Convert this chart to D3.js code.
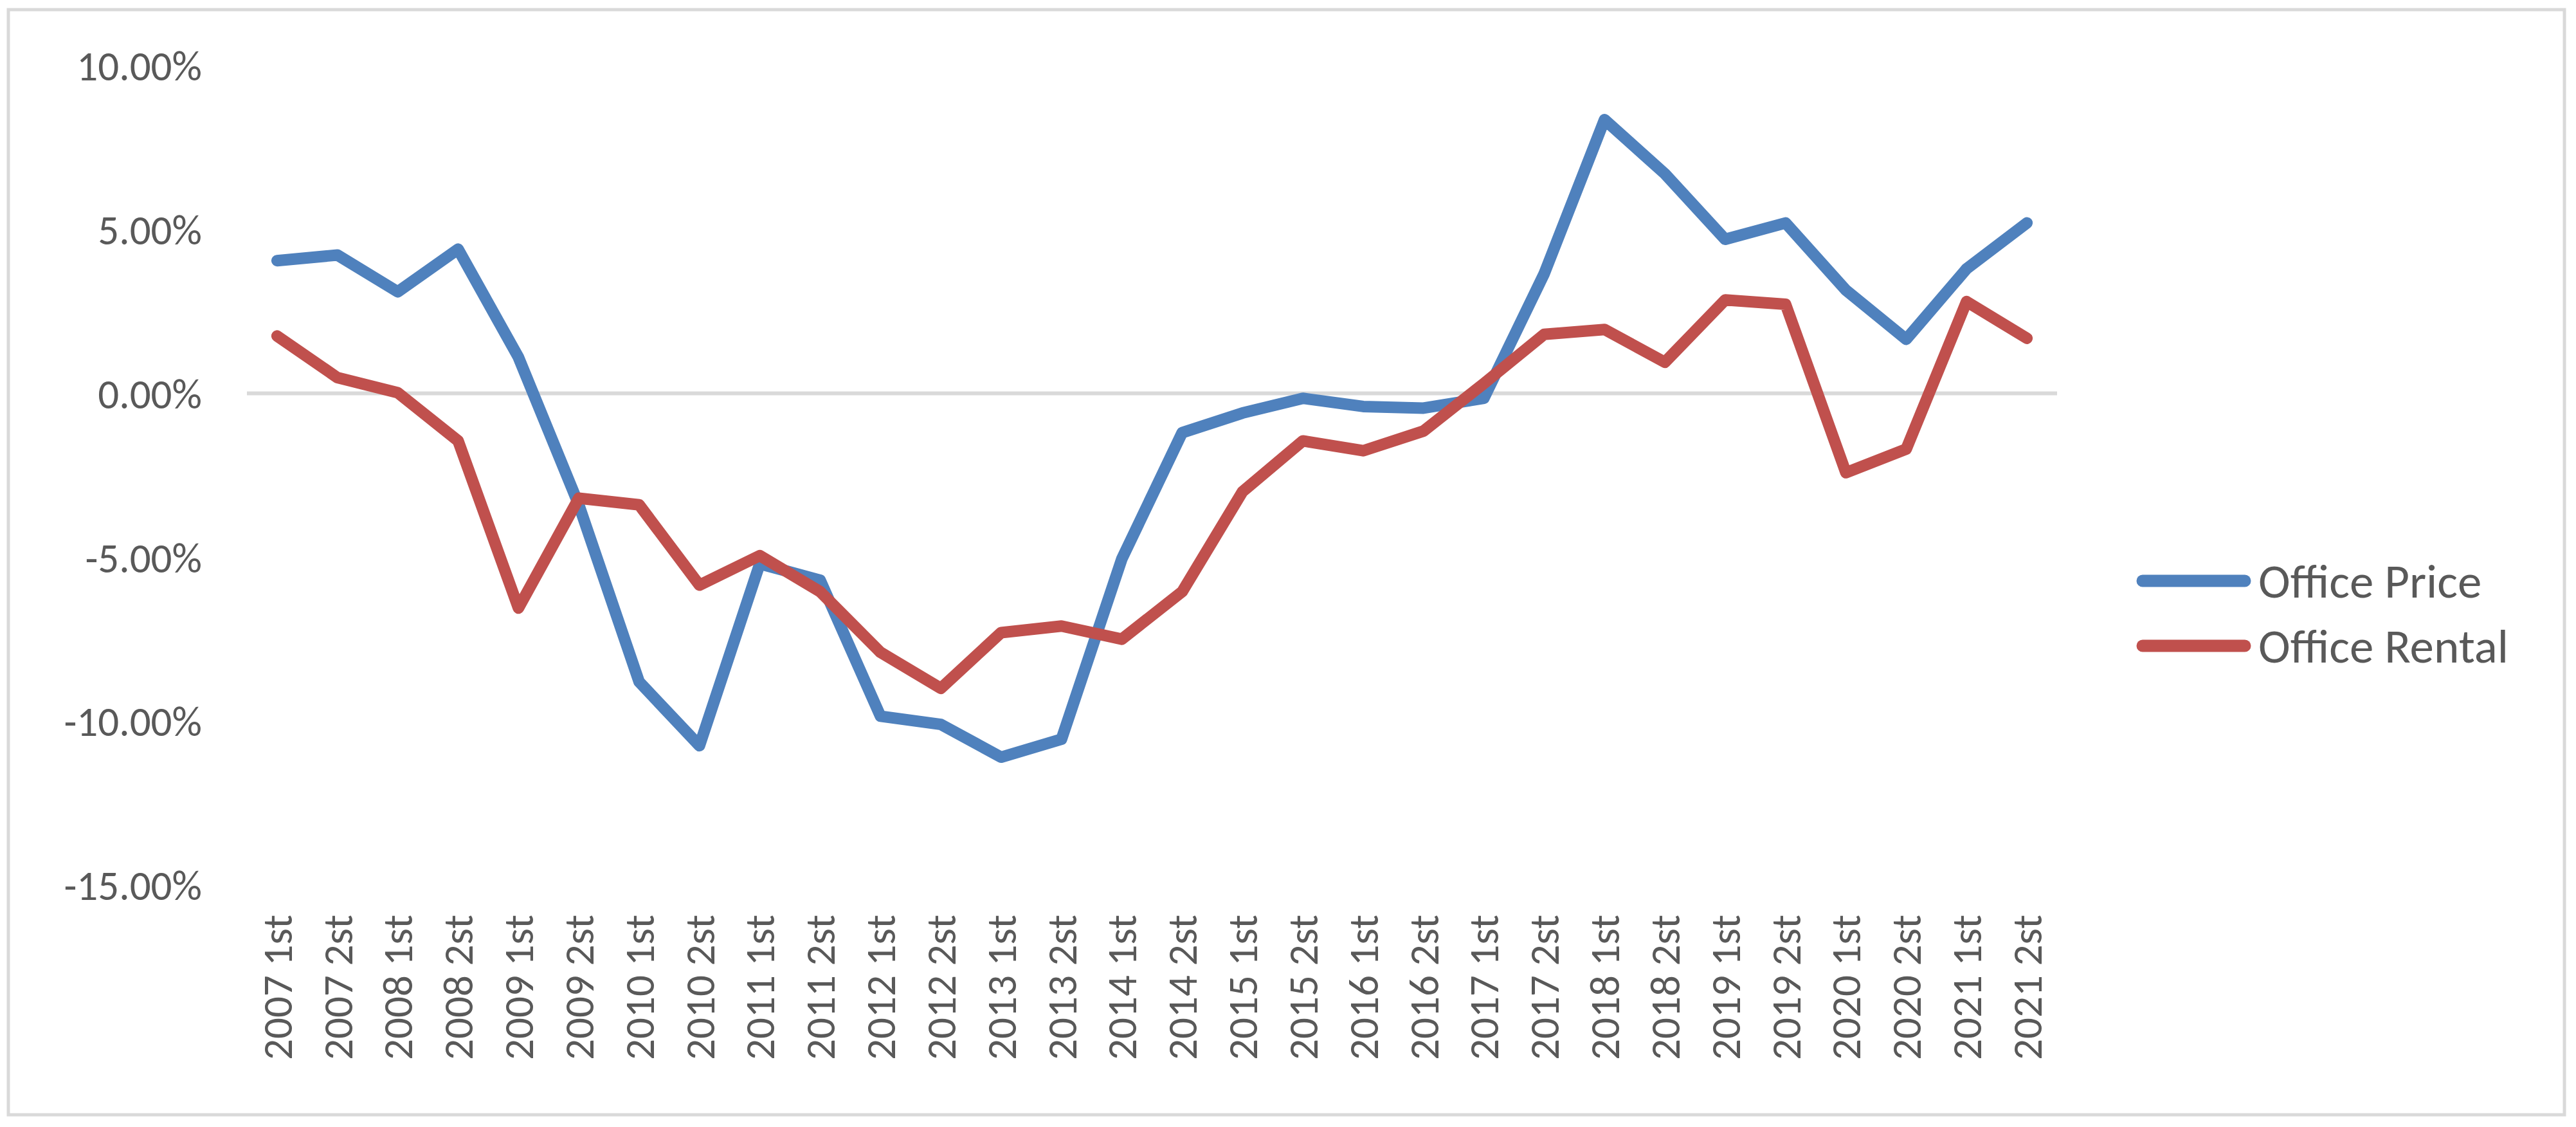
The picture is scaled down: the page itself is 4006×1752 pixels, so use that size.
<!DOCTYPE html>
<html>
<head>
<meta charset="utf-8">
<script src="https://cdn.jsdelivr.net/npm/d3@7"></script>
<style>
  html, body { margin: 0; padding: 0; background: #ffffff; }
  svg { display: block; }
  text { font-family: Calibri, Carlito, Lato, sans-serif; fill: #595959; }
</style>
</head>
<body>
<script>
const categories = ["2007 1st","2007 2st","2008 1st","2008 2st","2009 1st","2009 2st","2010 1st","2010 2st",
  "2011 1st","2011 2st","2012 1st","2012 2st","2013 1st","2013 2st","2014 1st","2014 2st",
  "2015 1st","2015 2st","2016 1st","2016 2st","2017 1st","2017 2st","2018 1st","2018 2st",
  "2019 1st","2019 2st","2020 1st","2020 2st","2021 1st","2021 2st"];
const officePrice = [4.05, 4.22, 3.10, 4.40, 1.10, -3.40, -8.80, -10.75, -5.20, -5.70, -9.85, -10.10,
  -11.10, -10.55, -5.05, -1.20, -0.60, -0.15, -0.40, -0.45, -0.15, 3.65, 8.35, 6.70,
  4.70, 5.20, 3.15, 1.65, 3.80, 5.20];
const officeRental = [1.75, 0.48, 0.02, -1.45, -6.55, -3.20, -3.40, -5.85, -4.95, -6.05, -7.90, -9.00,
  -7.30, -7.10, -7.50, -6.05, -3.00, -1.45, -1.75, -1.15, 0.30, 1.80, 1.95, 0.95,
  2.85, 2.72, -2.42, -1.70, 2.80, 1.68];
const yTicks = [10, 5, 0, -5, -10, -15];
const seriesNames = ["Office Price", "Office Rental"];
const seriesColors = ["#4f81bd", "#c0504d"];

const W = 4006, H = 1752;
const svg = d3.select("body").append("svg").attr("width", W).attr("height", H);

// chart border
svg.append("rect").attr("x", 13).attr("y", 15).attr("width", 3975).attr("height", 1718)
  .attr("fill", "#fff").attr("stroke", "#d9d9d9").attr("stroke-width", 5);

const plotLeft = 384, plotRight = 3199;
const x = d3.scalePoint().domain(categories).range([plotLeft, plotRight]).padding(0.5);
const y = d3.scaleLinear().domain([-15, 10]).range([1375.8, 102]);

// zero line (horizontal axis)
svg.append("line").attr("x1", plotLeft).attr("x2", plotRight)
  .attr("y1", y(0)).attr("y2", y(0)).attr("stroke", "#d9d9d9").attr("stroke-width", 6);

// y axis labels
const yAxis = d3.axisLeft(y).tickValues(yTicks).tickSize(0).tickPadding(0)
  .tickFormat(d => (d < 0 ? "-" : "") + Math.abs(d).toFixed(2) + "%");
const yg = svg.append("g").attr("transform", "translate(314,0)").call(yAxis);
yg.select(".domain").remove();
yg.selectAll("text").style("font-family", "Calibri, Carlito, Lato, sans-serif")
  .style("font-size", "65px").attr("fill", "#595959").attr("dy", "0.35em");

// x axis labels (rotated)
const xAxis = d3.axisBottom(x).tickSize(0).tickPadding(0);
const xg = svg.append("g").call(xAxis);
xg.select(".domain").remove();
xg.selectAll(".tick").attr("transform", d => `translate(${x(d)},1422)`);
xg.selectAll("text")
  .attr("transform", "rotate(-90)")
  .attr("x", 0).attr("y", 0).attr("dy", "0.35em")
  .style("text-anchor", "end")
  .style("font-family", "Calibri, Carlito, Lato, sans-serif")
  .style("font-size", "65px").attr("fill", "#595959");

// lines
const line = d3.line().x((d, i) => x(categories[i])).y(d => y(d));
[officePrice, officeRental].forEach((s, k) => {
  svg.append("path").datum(s).attr("d", line).attr("fill", "none")
    .attr("stroke", seriesColors[k]).attr("stroke-width", 18)
    .attr("stroke-linejoin", "round").attr("stroke-linecap", "round");
});

// legend
const legendY = [903, 1004];
seriesNames.forEach((n, k) => {
  const g = svg.append("g").attr("transform", `translate(0,${legendY[k]})`);
  g.append("line").attr("x1", 3332).attr("x2", 3491).attr("y1", 0).attr("y2", 0)
    .attr("stroke", seriesColors[k]).attr("stroke-width", 19).attr("stroke-linecap", "round");
  g.append("text").attr("x", 3512).attr("y", 0).attr("dy", "0.35em")
    .style("font-size", "75px").text(n);
});
</script>
</body>
</html>
